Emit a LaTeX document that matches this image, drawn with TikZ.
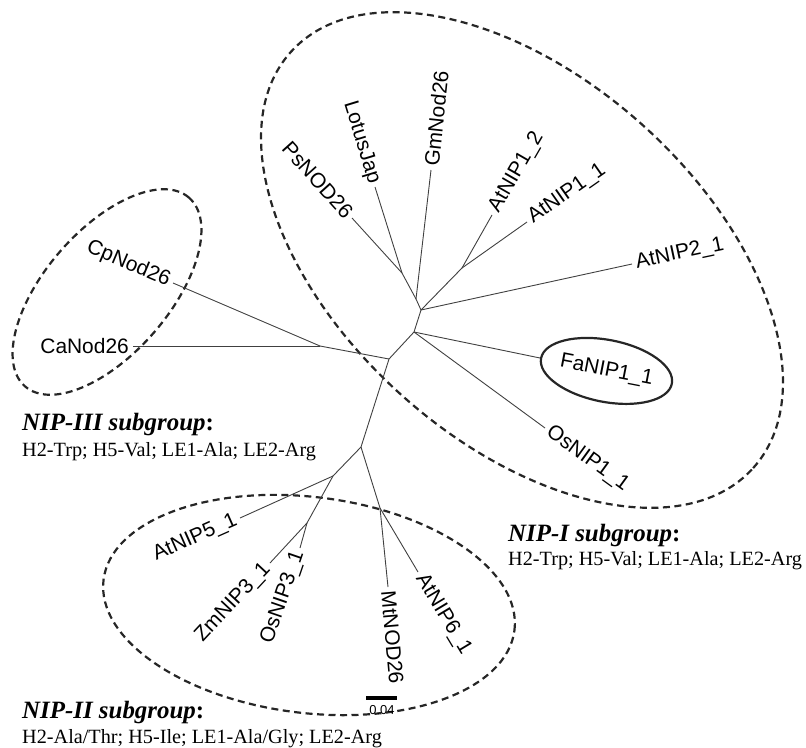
\documentclass[tikz,border=0pt]{standalone}
\usepackage{fontspec}
\setmainfont{Liberation Serif}
\newfontfamily\taxonfont{Liberation Sans}
\usetikzlibrary{shapes.geometric}

\begin{document}
\begin{tikzpicture}[
    x=1bp, y=-1bp,
    branch/.style={draw=black!75, line width=0.9bp},
    taxon/.style={inner sep=4bp, font=\taxonfont\fontsize{21}{25}\selectfont},
    group/.style={ellipse, draw=black!85, line width=2.2bp,
        dash pattern=on 7bp off 4.5bp, inner sep=0pt},
    marked/.style={ellipse, draw=black!85, line width=2.2bp, inner sep=0pt},
    heading/.style={anchor=base west, inner sep=0pt,
        font=\fontsize{25}{30}\selectfont\bfseries\itshape},
    motif/.style={anchor=base west, inner sep=0pt,
        font=\fontsize{20.3}{24}\selectfont}
]
\useasboundingbox (0,0) rectangle (806,748);

% subgroup outlines
\node [group, minimum width=622bp, minimum height=362bp, rotate=-42] (nip1) at (522,260) {};
\node [group, minimum width=250bp, minimum height=124bp, rotate=49]  (nip3) at (107,292) {};
\node [group, minimum width=414bp, minimum height=216bp, rotate=-7]  (nip2) at (309,605) {};

% inner nodes of the tree
\coordinate (f) at (320,346);
\coordinate (a) at (389,359);
\coordinate (b) at (414,332);
\coordinate (c) at (421,310);
\coordinate (d) at (416,299);
\coordinate (e) at (402,273);
\coordinate (k) at (462,268);
\coordinate (g) at (361,447);
\coordinate (h) at (333,476);
\coordinate (j) at (307,523);
\coordinate (i) at (380,508);

% leaves
\node [taxon, anchor=east, rotate=-23] (cpnod)   at (173,283) {CpNod26};
\node [taxon, anchor=east]             (canod)   at (133,346) {CaNod26};
\node [taxon, anchor=east, rotate=-48] (psnod)   at (352,218) {PsNOD26};
\node [taxon, anchor=east, rotate=-73] (lotus)   at (375,187) {LotusJap};
\node [taxon, anchor=west, rotate=84]  (gmnod)   at (431,170) {GmNod26};
\node [taxon, anchor=west, rotate=60]  (atnip12) at (492,215) {AtNIP1\_2};
\node [taxon, anchor=west, rotate=35]  (atnip11) at (527,222) {AtNIP1\_1};
\node [taxon, anchor=west, rotate=12]  (atnip21) at (632,264) {AtNIP2\_1};
\node [taxon, marked, anchor=west, rotate=-11,
       minimum width=117bp, minimum height=62bp] (fanip) at (540,358) {FaNIP1\_1};
\node [taxon, anchor=west, rotate=-36] (osnip11) at (545,428) {OsNIP1\_1};
\node [taxon, anchor=east, rotate=24]  (atnip51) at (240,518) {AtNIP5\_1};
\node [taxon, anchor=east, rotate=47]  (zmnip)   at (270,563) {ZmNIP3\_1};
\node [taxon, anchor=east, rotate=71]  (osnip31) at (300,548) {OsNIP3\_1};
\node [taxon, anchor=west, rotate=-85] (mtnod)   at (388,587) {MtNOD26};
\node [taxon, anchor=west, rotate=-59] (atnip61) at (418,572) {AtNIP6\_1};

% branches
\draw [branch] (f) -- (cpnod.east);
\draw [branch] (f) -- (canod.east);
\draw [branch] (f) -- (a);
\draw [branch] (a) -- (b);
\draw [branch] (a) -- (g);
\draw [branch] (b) -- (fanip.west);
\draw [branch] (b) -- (osnip11.west);
\draw [branch] (b) -- (c);
\draw [branch] (c) -- (atnip21.west);
\draw [branch] (c) -- (k);
\draw [branch] (c) -- (d);
\draw [branch] (d) -- (gmnod.west);
\draw [branch] (d) -- (e);
\draw [branch] (e) -- (lotus.east);
\draw [branch] (e) -- (psnod.east);
\draw [branch] (k) -- (atnip12.west);
\draw [branch] (k) -- (atnip11.west);
\draw [branch] (g) -- (h);
\draw [branch] (g) -- (i);
\draw [branch] (h) -- (atnip51.east);
\draw [branch] (h) -- (j);
\draw [branch] (j) -- (zmnip.east);
\draw [branch] (j) -- (osnip31.east);
\draw [branch] (i) -- (mtnod.west);
\draw [branch] (i) -- (atnip61.west);

% scale bar
\coordinate (bar0) at (366,698);
\coordinate (bar1) at (397,698);
\draw [line width=4bp] (bar0) -- (bar1);
\node [inner sep=0pt, font=\taxonfont\fontsize{13}{15}\selectfont] (barlabel) at (382,710) {0.04};

% subgroup notes
\node [heading] (nip3title) at (22,430) {NIP-III subgroup\upshape:};
\node [motif]   (nip3motif) at (22,456) {H2-Trp; H5-Val; LE1-Ala; LE2-Arg};
\node [heading] (nip1title) at (508,541) {NIP-I subgroup\upshape:};
\node [motif]   (nip1motif) at (508,565) {H2-Trp; H5-Val; LE1-Ala; LE2-Arg};
\node [heading] (nip2title) at (22,718) {NIP-II subgroup\upshape:};
\node [motif]   (nip2motif) at (22,743) {H2-Ala/Thr; H5-Ile; LE1-Ala/Gly; LE2-Arg};
\end{tikzpicture}
\end{document}
